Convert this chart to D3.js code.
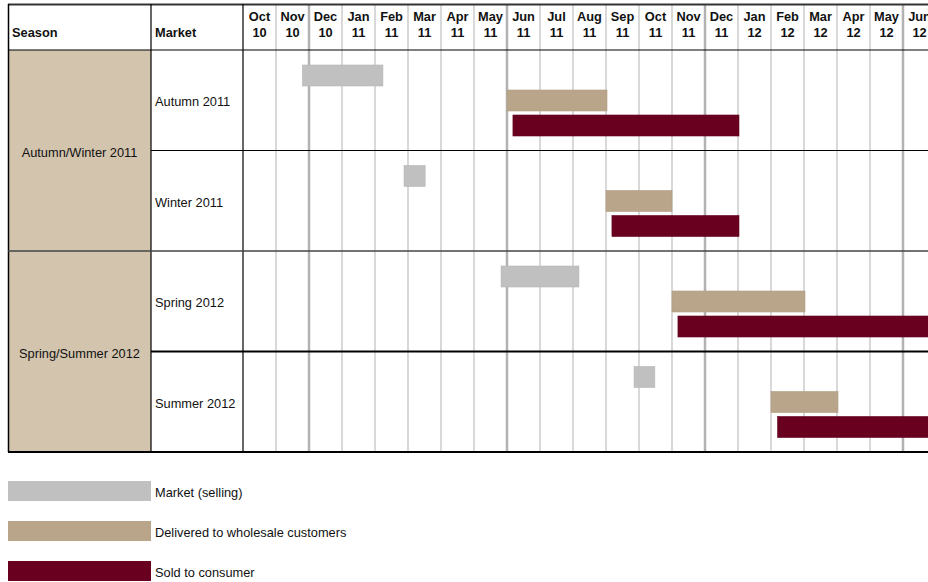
<!DOCTYPE html>
<html>
<head>
<meta charset="utf-8">
<script src="https://cdn.jsdelivr.net/npm/d3@7"></script>
<style>
  html, body { margin: 0; padding: 0; background: #fff; }
  svg { display: block; font-family: "Liberation Sans", Arial, sans-serif; }
</style>
</head>
<body>
<svg id="chart" width="928" height="582"></svg>
<script>
// Month columns of the timeline (name, two-digit year)
const monthNames = ["Oct","Nov","Dec","Jan","Feb","Mar","Apr","May","Jun","Jul","Aug","Sep","Oct","Nov","Dec","Jan","Feb","Mar","Apr","May","Jun"];
const monthYears = ["10","10","10","11","11","11","11","11","11","11","11","11","11","11","11","12","12","12","12","12","12"];

// Seasons and the markets that belong to each
const seasons = ["Autumn/Winter 2011", "Spring/Summer 2012"];
const markets = ["Autumn 2011", "Winter 2011", "Spring 2012", "Summer 2012"];
const marketSeason = ["Autumn/Winter 2011", "Autumn/Winter 2011", "Spring/Summer 2012", "Spring/Summer 2012"];

// Phases of each market, in the order they are stacked within a row
const phases = ["Market (selling)", "Delivered to wholesale customers", "Sold to consumer"];
const phaseColors = ["#c0c0c0", "#b9a68a", "#6a0020"];

// Phase start / end, in months counted from the start of Oct 10
const sellingStart   = [1.8, 4.88, 7.82, 11.85];
const sellingEnd     = [4.24, 5.52, 10.18, 12.48];
const deliveredStart = [8.0, 11.0, 13.0, 16.0];
const deliveredEnd   = [11.03, 13.0, 17.03, 18.03];
const soldStart      = [8.18, 11.18, 13.18, 16.2];
const soldEnd        = [15.03, 15.03, 21.0, 21.0];

const bars = [];
markets.forEach((m, i) => {
  bars.push({ market: m, phase: phases[0], start: sellingStart[i], end: sellingEnd[i] });
  bars.push({ market: m, phase: phases[1], start: deliveredStart[i], end: deliveredEnd[i] });
  bars.push({ market: m, phase: phases[2], start: soldStart[i], end: soldEnd[i] });
});

const svg = d3.select("#chart");
const W = 928;
const leftX = 8, seasonRight = 151, marketRight = 243;
const topY = 4, headerBottom = 50, bottomY = 452;
const fontSize = 12.8;

const x = d3.scaleLinear().domain([0, monthNames.length]).range([marketRight, marketRight + 33 * monthNames.length]);
const y = d3.scaleBand().domain(markets).range([headerBottom, bottomY]);
const yPhase = d3.scaleBand().domain(phases).range([15, 86]).paddingInner(0.16);
const color = d3.scaleOrdinal().domain(phases).range(phaseColors);

// Season cells
const seasonRows = seasons.map(s => {
  const ms = markets.filter((m, i) => marketSeason[i] === s);
  return { season: s, y0: y(ms[0]), y1: y(ms[ms.length - 1]) + y.bandwidth() };
});
svg.append("g").selectAll("rect").data(seasonRows).join("rect")
  .attr("x", leftX).attr("y", d => d.y0)
  .attr("width", seasonRight - leftX).attr("height", d => d.y1 - d.y0)
  .attr("fill", "#d3c4ae");

// Month gridlines (heavier every six months)
const grid = svg.append("g");
d3.range(1, monthNames.length + 1).forEach(i => {
  const heavy = (i % 6) === 2;
  grid.append("line")
    .attr("x1", x(i)).attr("x2", x(i))
    .attr("y1", topY).attr("y2", bottomY)
    .attr("stroke", heavy ? "#b2b2b2" : "#c4c4c4")
    .attr("stroke-width", heavy ? 2.5 : 1.3);
});

// Bars
svg.append("g").selectAll("rect").data(bars).join("rect")
  .attr("x", d => x(d.start))
  .attr("y", d => y(d.market) + yPhase(d.phase))
  .attr("width", d => x(d.end) - x(d.start))
  .attr("height", yPhase.bandwidth())
  .attr("fill", d => color(d.phase))
  .attr("stroke", d => d3.color(color(d.phase)).darker(0.15))
  .attr("stroke-width", 0.6);

// Table rules
const rules = svg.append("g").attr("stroke", "#000");
rules.append("line").attr("x1", leftX).attr("x2", W).attr("y1", topY + 0.5).attr("y2", topY + 0.5).attr("stroke-width", 2).attr("stroke", "#333");
rules.append("line").attr("x1", leftX).attr("x2", W).attr("y1", headerBottom).attr("y2", headerBottom).attr("stroke-width", 1.2);
rules.append("line").attr("x1", leftX).attr("x2", W).attr("y1", bottomY).attr("y2", bottomY).attr("stroke-width", 1.8);
rules.append("line").attr("x1", leftX + 0.5).attr("x2", leftX + 0.5).attr("y1", topY).attr("y2", bottomY).attr("stroke-width", 1.5);
rules.append("line").attr("x1", seasonRight).attr("x2", seasonRight).attr("y1", topY).attr("y2", bottomY).attr("stroke-width", 1.2);
rules.append("line").attr("x1", marketRight).attr("x2", marketRight).attr("y1", topY).attr("y2", bottomY).attr("stroke-width", 1.2);
markets.slice(1).forEach((m, k) => {
  const i = k + 1;
  const seasonBreak = marketSeason[i] !== marketSeason[i - 1];
  rules.append("line")
    .attr("x1", seasonBreak ? leftX : seasonRight).attr("x2", W)
    .attr("y1", y(m)).attr("y2", y(m))
    .attr("stroke", seasonBreak ? "#444" : "#000")
    .attr("stroke-width", seasonBreak ? 1.5 : (i === 3 ? 2 : 1.2));
});

// Header texts
const head = svg.append("g").attr("font-size", fontSize).attr("font-weight", "bold").attr("fill", "#111");
head.append("text").attr("x", 12).attr("y", 37).text("Season");
head.append("text").attr("x", 155).attr("y", 37).text("Market");
const monthG = head.selectAll("g.month").data(monthNames).join("g").attr("class", "month")
  .attr("transform", (d, i) => `translate(${x(i + 0.5)},0)`)
  .attr("text-anchor", "middle");
monthG.append("text").attr("y", 21).text(d => d);
monthG.append("text").attr("y", 37).text((d, i) => monthYears[i]);

// Season and market labels
const body = svg.append("g").attr("font-size", fontSize).attr("fill", "#111");
body.selectAll("text.season").data(seasonRows).join("text").attr("class", "season")
  .attr("x", (leftX + seasonRight) / 2).attr("y", d => (d.y0 + d.y1) / 2 + 6.5)
  .attr("text-anchor", "middle").text(d => d.season);
body.selectAll("text.market").data(markets).join("text").attr("class", "market")
  .attr("x", 155).attr("y", d => y(d) + y.bandwidth() / 2 + 6).text(d => d);

// Legend
const legend = svg.append("g").selectAll("g").data(phases).join("g")
  .attr("transform", (d, i) => `translate(${leftX},${481 + i * 40})`);
legend.append("rect").attr("width", seasonRight - leftX).attr("height", 20).attr("fill", d => color(d));
legend.append("text").attr("x", 155 - leftX).attr("y", 15.5)
  .attr("font-size", fontSize).attr("fill", "#111").text(d => d);
</script>
</body>
</html>
